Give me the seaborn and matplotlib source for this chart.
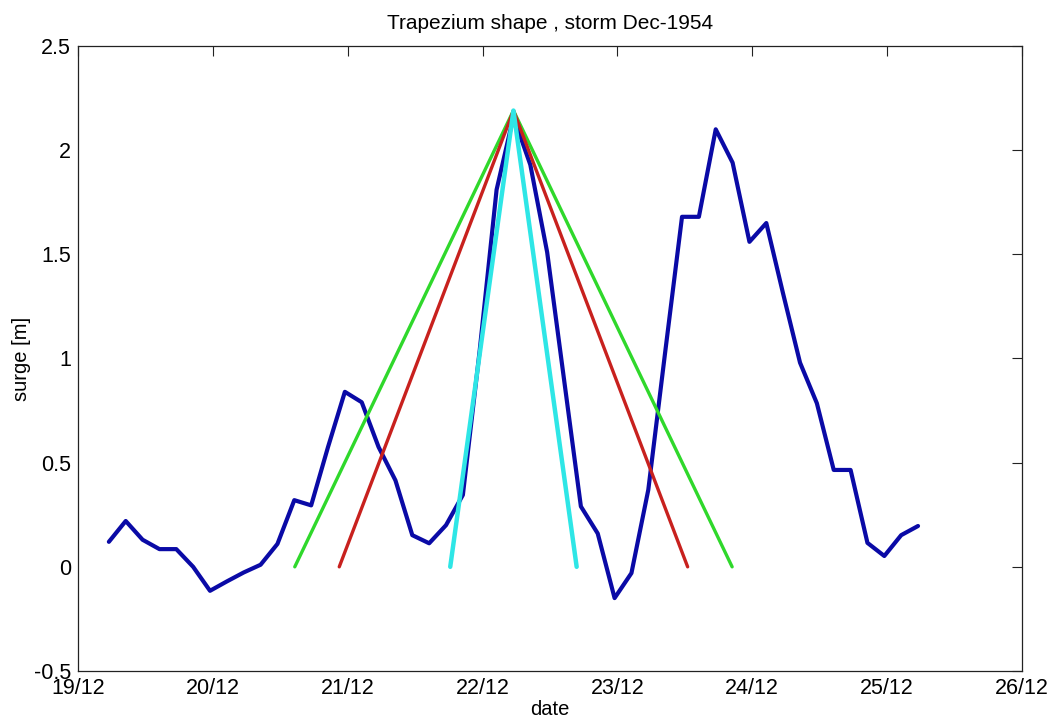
import matplotlib
matplotlib.use("Agg")
import matplotlib.pyplot as plt
import matplotlib.dates as mdates
import pandas as pd
import seaborn as sns

# Surge record, 3-hourly, storm of December 1954
surge = [0.12, 0.22, 0.13, 0.085, 0.085, 0.0, -0.115, -0.07, -0.027, 0.01,
         0.11, 0.32, 0.295, 0.575, 0.84, 0.79, 0.575, 0.415, 0.152, 0.113,
         0.2, 0.345, 1.04, 1.81, 2.16, 1.93, 1.51, 0.9, 0.29, 0.16,
         -0.15, -0.03, 0.37, 1.03, 1.68, 1.68, 2.1, 1.94, 1.56, 1.65,
         1.31, 0.98, 0.785, 0.465, 0.465, 0.115, 0.052, 0.152, 0.196]
surge_start = "1954-12-19 05:30"

# Trapezium (triangle) approximations: start, peak, end
peak_value = 2.19
green_t = ["1954-12-20 14:35", "1954-12-22 05:30", "1954-12-23 20:25"]
red_t = ["1954-12-20 22:30", "1954-12-22 05:30", "1954-12-23 12:30"]
cyan_t = ["1954-12-21 18:15", "1954-12-22 05:30", "1954-12-22 16:45"]
shape_values = [0.0, peak_value, 0.0]

x_start = "1954-12-19"
x_end = "1954-12-26"

sns.set_style("white")
plt.rcParams["font.family"] = ["Liberation Sans", "DejaVu Sans"]
plt.rcParams["text.color"] = "black"
plt.rcParams["axes.labelcolor"] = "black"
plt.rcParams["xtick.color"] = "black"
plt.rcParams["ytick.color"] = "black"
plt.rcParams["xtick.direction"] = "in"
plt.rcParams["ytick.direction"] = "in"
plt.rcParams["xtick.top"] = True
plt.rcParams["ytick.right"] = True

df = pd.DataFrame({
    "date": pd.date_range(surge_start, periods=len(surge), freq="3h"),
    "surge": surge,
})

fig = plt.figure(figsize=(10.55, 7.24), dpi=100)
ax = fig.add_axes([0.0739, 0.0732, 0.8948, 0.8633])

sns.lineplot(x="date", y="surge", data=df, color="#0a0aa6", linewidth=3.0, sort=False, ax=ax)
sns.lineplot(x=pd.to_datetime(green_t), y=shape_values, color="#2fd82b", linewidth=2.4, sort=False, ax=ax)
sns.lineplot(x=pd.to_datetime(red_t), y=shape_values, color="#c8211e", linewidth=2.4, sort=False, ax=ax)
sns.lineplot(x=pd.to_datetime(cyan_t), y=shape_values, color="#2ee6e6", linewidth=3.2, sort=False, ax=ax)

ax.set_xlim(pd.Timestamp(x_start), pd.Timestamp(x_end))
ax.set_ylim(-0.5, 2.5)
ax.xaxis.set_major_locator(mdates.DayLocator())
ax.xaxis.set_major_formatter(mdates.DateFormatter("%d/%m"))
ax.set_yticks([-0.5, 0, 0.5, 1, 1.5, 2, 2.5])
ax.set_yticklabels(["-0.5", "0", "0.5", "1", "1.5", "2", "2.5"])

for spine in ax.spines.values():
    spine.set_color("#222222")
    spine.set_linewidth(0.9)
ax.tick_params(axis="both", length=7, width=0.8, color="#222222",
               labelsize=15.5, pad=5)

ax.set_title("Trapezium shape , storm Dec-1954", fontsize=15, pad=12)
ax.set_xlabel("date", fontsize=14.5, labelpad=1)
ax.set_ylabel("surge [m]", fontsize=14.5, labelpad=2)

fig.savefig("out.png", dpi=100)
